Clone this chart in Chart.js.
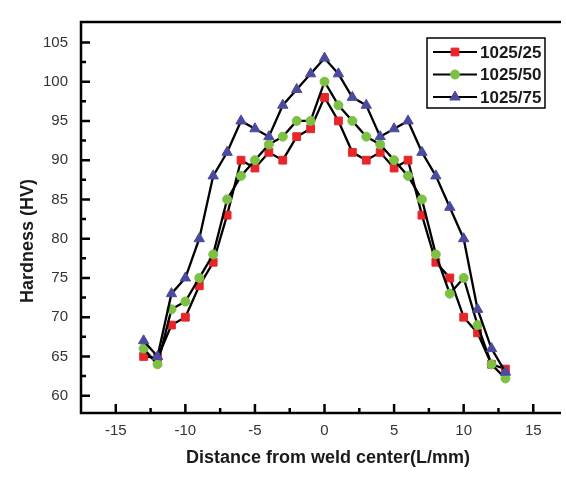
<!DOCTYPE html>
<html>
<head>
<meta charset="utf-8">
<script src="https://cdn.jsdelivr.net/npm/chart.js@4/dist/chart.umd.min.js"></script>
<style>
  html, body { margin: 0; padding: 0; background: #fff; overflow: hidden; }
  canvas { display: block; }
</style>
</head>
<body>
<canvas id="myChart" width="566" height="478"></canvas>
<script>
// distance from weld center (mm)
const distances = [-13, -12, -11, -10, -9, -8, -7, -6, -5, -4, -3, -2, -1, 0, 1, 2, 3, 4, 5, 6, 7, 8, 9, 10, 11, 12, 13];
const hv25 = [65, 64.8, 69, 70, 74, 77, 83, 90, 89, 91, 90, 93, 94, 98, 95, 91, 90, 91, 89, 90, 83, 77, 75, 70, 68, 64, 63.4];
const hv50 = [66, 64, 71, 72, 75, 78, 85, 88, 90, 92, 93, 95, 95, 100, 97, 95, 93, 92, 90, 88, 85, 78, 73, 75, 69, 64, 62.2];
const hv75 = [67, 65, 73, 75, 80, 88, 91, 95, 94, 93, 97, 99, 101, 103, 101, 98, 97, 93, 94, 95, 91, 88, 84, 80, 71, 66, 63];
const seriesNames = ["1025/25", "1025/50", "1025/75"];
const xTicks = [-15, -10, -5, 0, 5, 10, 15];
const yTicks = [60, 65, 70, 75, 80, 85, 90, 95, 100, 105];
const xTitle = "Distance from weld center(L/mm)";
const yTitle = "Hardness (HV)";

Chart.defaults.font.family = "'Liberation Sans', Arial, sans-serif";

const pts = (vals) => distances.map((d, i) => ({ x: d, y: vals[i] }));

// frame, inward ticks, legend box and axis titles
const plotDecor = {
  id: 'plotDecor',
  afterDraw(chart) {
    const { ctx, chartArea: a, scales: { x, y } } = chart;
    ctx.save();
    ctx.strokeStyle = '#000';
    ctx.lineWidth = 2.5;

    ctx.beginPath();
    xTicks.forEach((v) => {
      const px = x.getPixelForValue(v);
      ctx.moveTo(px, a.bottom); ctx.lineTo(px, a.bottom - 9);
      const m = x.getPixelForValue(v + 2.5);
      if (m < a.right) { ctx.moveTo(m, a.bottom); ctx.lineTo(m, a.bottom - 5); }
    });
    yTicks.forEach((v) => {
      const py = y.getPixelForValue(v);
      ctx.moveTo(a.left, py); ctx.lineTo(a.left + 9, py);
      const m = y.getPixelForValue(v + 2.5);
      if (m > a.top + 2) { ctx.moveTo(a.left, m); ctx.lineTo(a.left + 5, m); }
    });
    ctx.stroke();

    ctx.beginPath();
    ctx.moveTo(a.right + 2, a.top);
    ctx.lineTo(a.left, a.top);
    ctx.lineTo(a.left, a.bottom);
    ctx.lineTo(a.right + 2, a.bottom);
    ctx.stroke();

    // legend
    ctx.lineWidth = 1.5;
    ctx.strokeRect(427, 38, 118, 70);
    ctx.font = "bold 17px 'Liberation Sans', Arial, sans-serif";
    ctx.textBaseline = 'middle';
    ctx.textAlign = 'left';
    chart.data.datasets.forEach((ds, i) => {
      const ly = 52 + i * 22.5;
      ctx.strokeStyle = '#000';
      ctx.lineWidth = 2.2;
      ctx.beginPath(); ctx.moveTo(433, ly); ctx.lineTo(477, ly); ctx.stroke();
      ctx.fillStyle = ds.pointBackgroundColor;
      ctx.strokeStyle = ds.pointBorderColor;
      ctx.lineWidth = ds.pointBorderWidth;
      Chart.helpers.drawPoint(ctx, { pointStyle: ds.pointStyle, radius: ds.pointRadius, borderWidth: ds.pointBorderWidth, rotation: 0 }, 455, ly);
      ctx.fillStyle = '#1a1a1a';
      ctx.fillText(ds.label, 480, ly + 1);
    });

    // axis titles
    ctx.fillStyle = '#1a1a1a';
    ctx.font = "bold 18px 'Liberation Sans', Arial, sans-serif";
    ctx.textAlign = 'center';
    ctx.fillText(xTitle, 328, 458);
    ctx.translate(28, 241);
    ctx.rotate(-Math.PI / 2);
    ctx.fillText(yTitle, 0, 0);
    ctx.restore();
  }
};

const ctx = document.getElementById('myChart');

const myChart = new Chart(ctx, {
  type: 'line',
  plugins: [plotDecor],
  data: {
    datasets: [
      {
        label: seriesNames[0],
        data: pts(hv25),
        borderColor: '#000',
        borderWidth: 2.3,
        tension: 0,
        pointStyle: 'rect',
        pointRadius: 5.5,
        pointBackgroundColor: '#E8262A',
        pointBorderColor: '#E8262A',
        pointBorderWidth: 1,
        order: 3,
      },
      {
        label: seriesNames[1],
        data: pts(hv50),
        borderColor: '#000',
        borderWidth: 2.3,
        tension: 0,
        pointStyle: 'circle',
        pointRadius: 4.5,
        pointBackgroundColor: '#7CC144',
        pointBorderColor: '#7CC144',
        pointBorderWidth: 1,
        order: 2,
      },
      {
        label: seriesNames[2],
        data: pts(hv75),
        borderColor: '#000',
        borderWidth: 2.3,
        tension: 0,
        pointStyle: 'triangle',
        pointRadius: 6,
        pointBackgroundColor: '#4B4B9E',
        pointBorderColor: '#4B4B9E',
        pointBorderWidth: 1,
        order: 1,
      },
    ],
  },
  options: {
    responsive: false,
    animation: false,
    layout: { padding: { top: 12, left: 0, right: 0, bottom: 0 } },
    plugins: {
      legend: { display: false },
      tooltip: { enabled: false },
    },
    scales: {
      x: {
        type: 'linear',
        min: -17.5,
        max: 16.85,
        afterBuildTicks: (s) => { s.ticks = xTicks.map((v) => ({ value: v })); },
        afterFit: (s) => { s.height = 65; },
        grid: { display: false, drawTicks: false },
        border: { display: false },
        ticks: {
          padding: 9,
          color: '#333',
          font: { size: 15 },
          maxRotation: 0,
        },
      },
      y: {
        min: 57.8,
        max: 107.6,
        afterBuildTicks: (s) => { s.ticks = yTicks.map((v) => ({ value: v })); },
        afterFit: (s) => { s.width = 81; },
        grid: { display: false, drawTicks: false },
        border: { display: false },
        ticks: {
          padding: 13,
          color: '#333',
          font: { size: 15 },
        },
      },
    },
  },
});
</script>
</body>
</html>
